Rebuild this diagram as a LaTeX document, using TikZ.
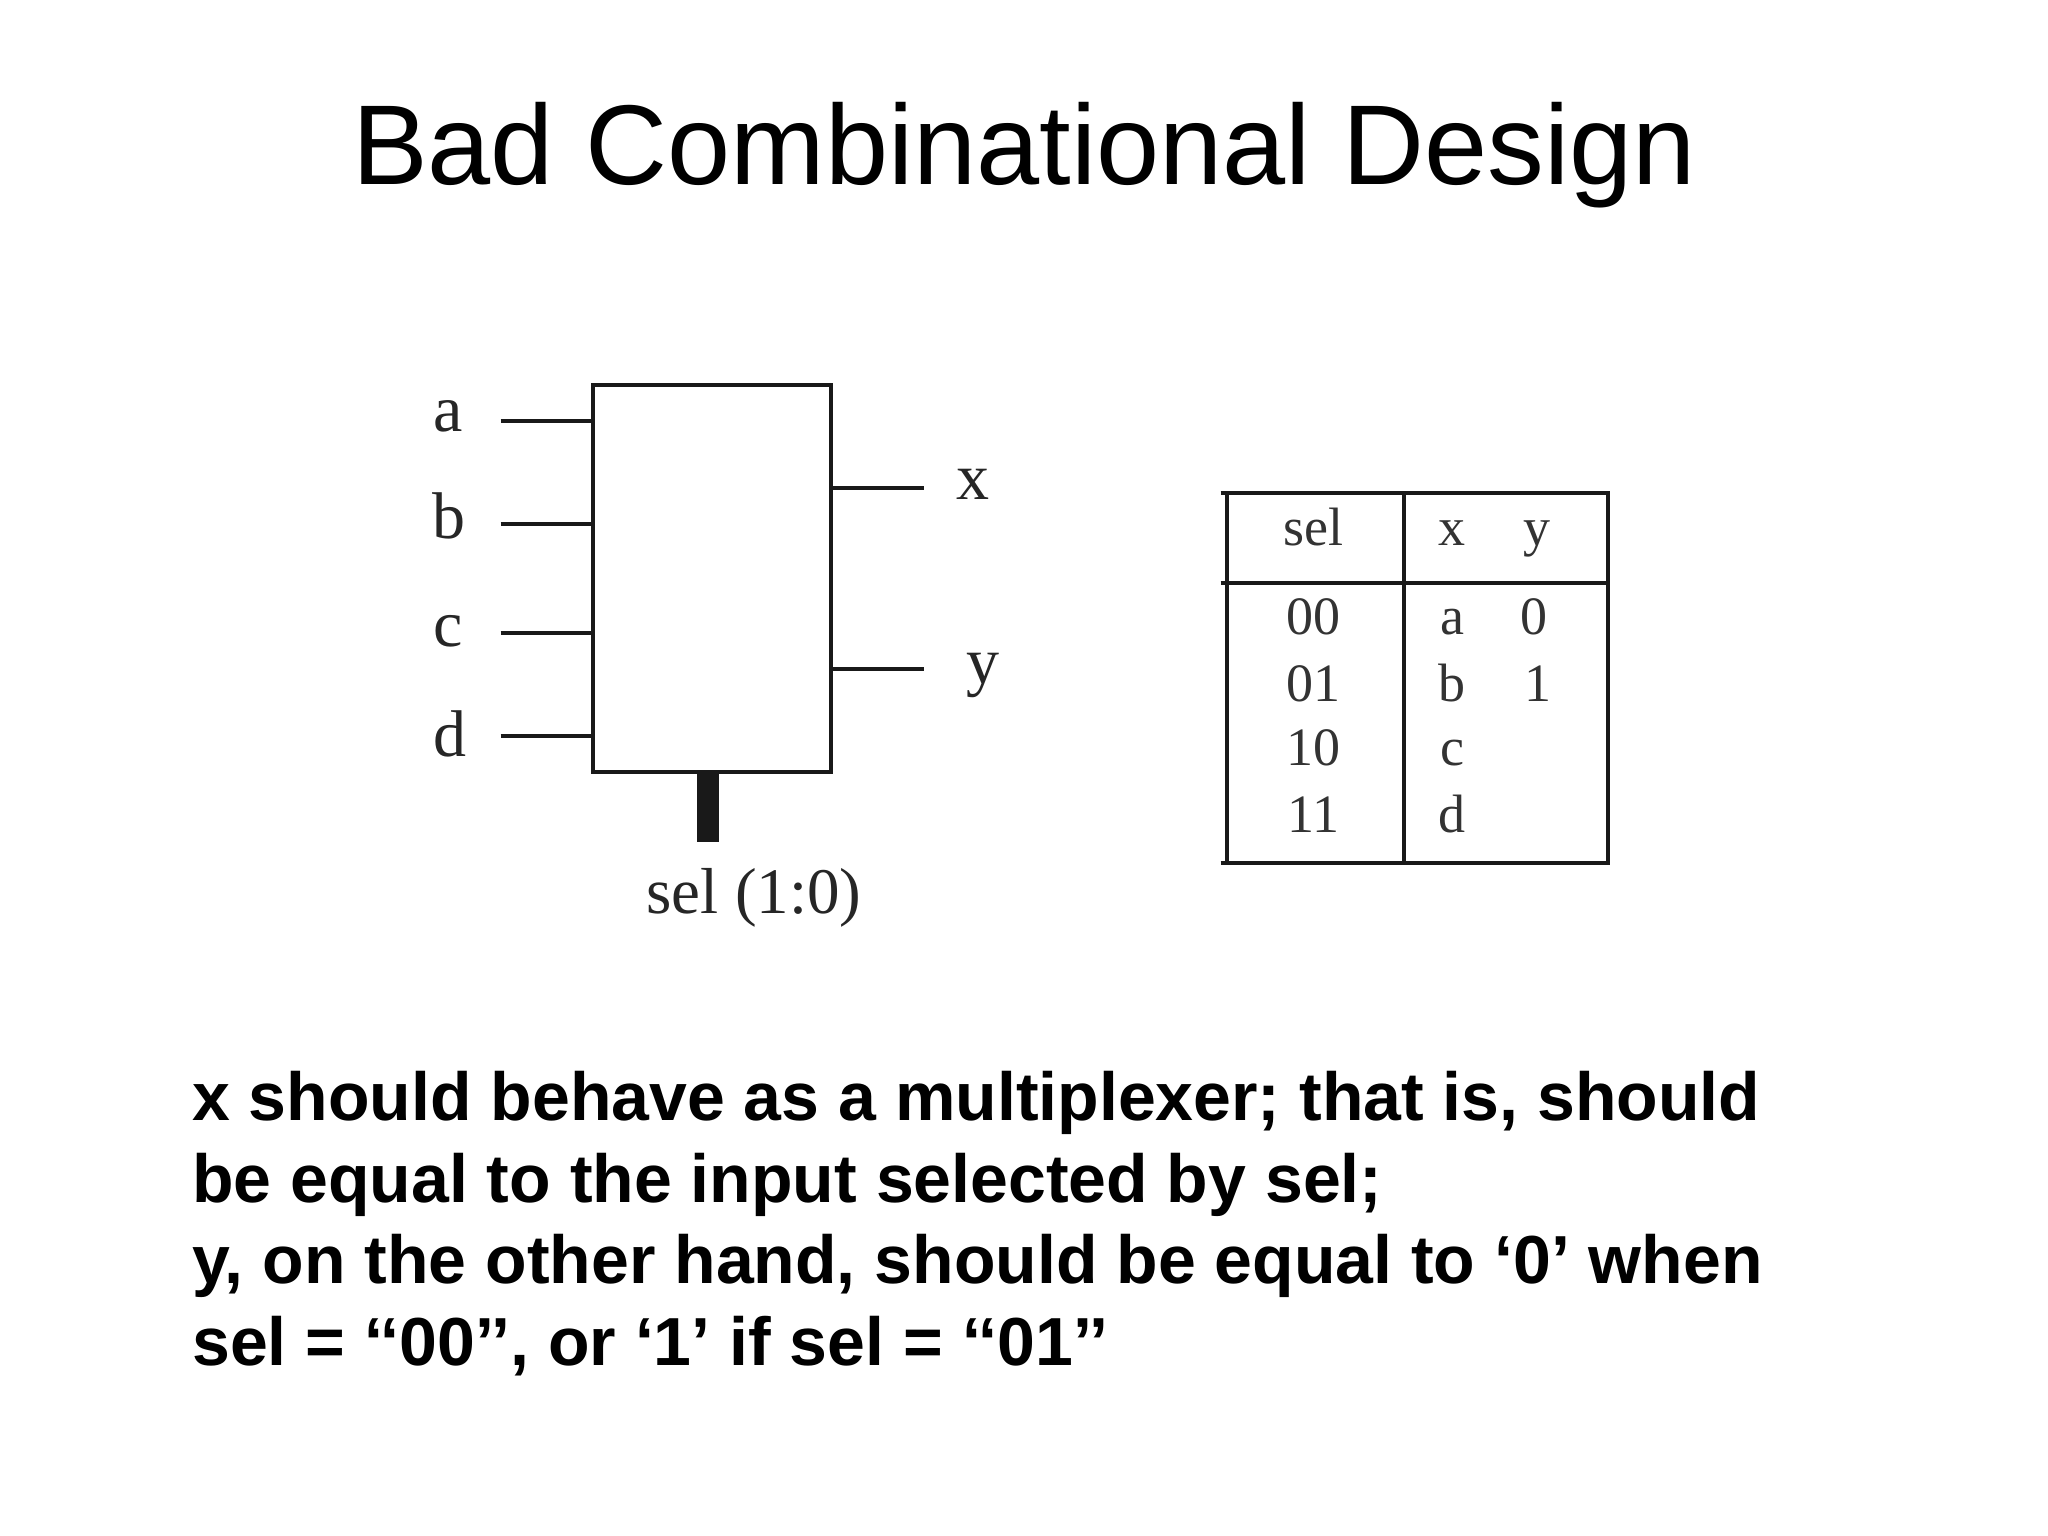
\documentclass[tikz,border=0pt]{standalone}
\usepackage{fontspec}
\setmainfont{Liberation Sans}
\newfontfamily\tmfont{Liberation Serif}
\begin{document}
\begin{tikzpicture}[x=1pt,y=-1pt,
  wire/.style={line width=4pt,black!90},
  bus/.style={line width=22.3pt,black!90},
  tline/.style={line width=4pt,black!90},
  lbl/.style={inner sep=0pt,anchor=base,text=black!85,font=\tmfont\fontsize{66}{68}\selectfont},
  tlbl/.style={inner sep=0pt,anchor=base,text=black!80,font=\tmfont\fontsize{54}{56}\selectfont},
  body/.style={inner sep=0pt,anchor=base west,font=\bfseries\fontsize{68}{80}\selectfont}]
\fill[white] (0,0) rectangle (2048,1536);
\useasboundingbox (0,0) rectangle (2048,1536);
% title
\node[inner sep=0pt,anchor=base,font=\fontsize{113.5}{120}\selectfont] (title) at (1024,184) {Bad Combinational Design};
% block
\node[draw=black!90,line width=4pt,minimum width=237.4pt,minimum height=387.3pt,inner sep=0pt] (blk) at (712,578.65) {};
\coordinate (ina) at (500.7,421);
\coordinate (inb) at (500.7,524.3);
\coordinate (inc) at (500.7,633);
\coordinate (ind) at (500.7,736.3);
\coordinate (outx) at (924,488.3);
\coordinate (outy) at (924,669);
\coordinate (selend) at (707.8,842.3);
\draw[wire] (ina) -- (ina -| blk.west);
\draw[wire] (inb) -- (inb -| blk.west);
\draw[wire] (inc) -- (inc -| blk.west);
\draw[wire] (ind) -- (ind -| blk.west);
\draw[wire] (outx -| blk.east) -- (outx);
\draw[wire] (outy -| blk.east) -- (outy);
\draw[bus] (selend |- blk.south) -- (selend);
\node[lbl] (la) at (448,431.7) {a};
\node[lbl] (lb) at (449,538.3) {b};
\node[lbl] (lc) at (448,646.7) {c};
\node[lbl] (ld) at (450,756.7) {d};
\node[lbl] (lx) at (973.3,499.3) {x};
\node[lbl] (ly) at (983.3,683) {y};
\node[lbl,font=\tmfont\fontsize{65}{68}\selectfont] (lsel) at (754,913.3) {sel (1:0)};
% table
\draw[tline] (1220.7,493.3) -- (1608,493.3);
\draw[tline] (1220.7,583.3) -- (1608,583.3);
\draw[tline] (1220.7,862.7) -- (1608,862.7);
\draw[tline] (1226.7,493.3) -- (1226.7,862.7);
\draw[tline] (1404,493.3) -- (1404,862.7);
\draw[tline] (1608,491.3) -- (1608,864.7);
\node[tlbl] (hsel) at (1313,545) {sel};
\node[tlbl] (hx) at (1452,545) {x};
\node[tlbl] (hy) at (1537,545) {y};
\node[tlbl] (r1) at (1313,634) {00};
\node[tlbl] (r2) at (1313,701.7) {01};
\node[tlbl] (r3) at (1313,765) {10};
\node[tlbl] (r4) at (1313,832.7) {11};
\node[tlbl] (x1) at (1452,634) {a};
\node[tlbl] (x2) at (1452,701.7) {b};
\node[tlbl] (x3) at (1452,765) {c};
\node[tlbl] (x4) at (1452,832.7) {d};
\node[tlbl] (y1) at (1534,634) {0};
\node[tlbl] (y2) at (1538,701.7) {1};
% body text
\node[body] (t1) at (192,1120) {x should behave as a multiplexer; that is, should};
\node[body] (t2) at (192,1202.3) {be equal to the input selected by sel;};
\node[body] (t3) at (192,1283.3) {y, on the other hand, should be equal to ‘0’ when};
\node[body] (t4) at (192,1365) {sel = ‘‘00’’, or ‘1’ if sel = ‘‘01’’};
\end{tikzpicture}
\end{document}
